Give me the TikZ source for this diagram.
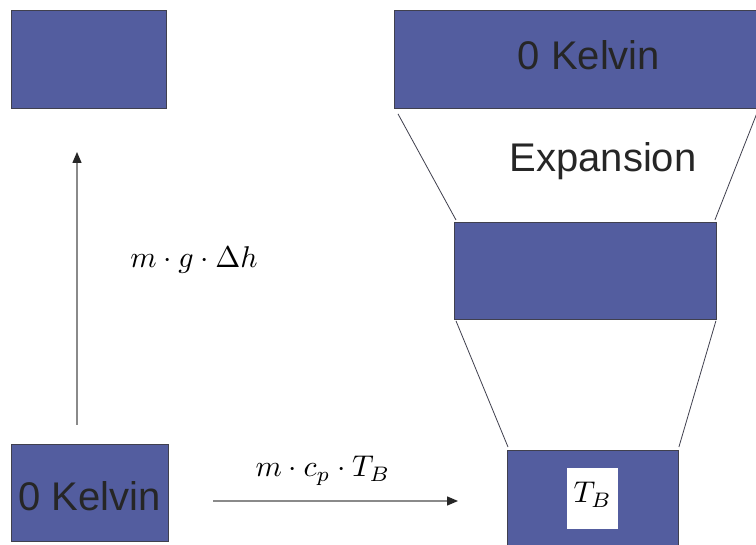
\documentclass[tikz,border=0pt]{standalone}
\usepackage{graphicx}
\usepackage{fontspec}
\setmainfont{Liberation Sans}
\usetikzlibrary{arrows.meta,calc}
\definecolor{boxfill}{HTML}{535D9F}
\definecolor{boxline}{HTML}{40404E}
\definecolor{txt}{HTML}{262626}
\definecolor{arrgray}{HTML}{8A8A8A}
\newcommand{\bigmath}[1]{\scalebox{3.0}{$#1$}}
\tikzset{
  bluebox/.style={draw=boxline, line width=0.9pt, fill=boxfill, inner sep=0pt, anchor=north west},
  bigtext/.style={text=txt, font=\fontsize{40}{44}\selectfont, inner sep=0pt, anchor=base},
  mathlbl/.style={text=black, inner sep=0pt, anchor=base},
  funnel/.style={draw=boxline, line width=0.8pt},
  energy/.style={draw=arrgray, line width=1.5pt, -{Triangle[length=11pt,width=9pt,color=txt]}},
}
\begin{document}
\begin{tikzpicture}[x=1pt,y=-1pt]
\clip (0,0) rectangle (756,545);
\fill[white] (0,0) rectangle (756,545);
% boxes
\node[bluebox, minimum width=155pt, minimum height=98pt] (tl) at (11,10) {};
\node[bluebox, minimum width=366pt, minimum height=98pt] (tr) at (394,10) {};
\node[bluebox, minimum width=262pt, minimum height=97pt] (mid) at (454,222) {};
\node[bluebox, minimum width=171pt, minimum height=100pt] (br) at (507,450) {};
\node[bluebox, minimum width=157pt, minimum height=97pt] (bl) at (11,444) {};
\node[fill=white, inner sep=0pt, minimum width=51pt, minimum height=61pt, anchor=north west] (tbbox) at (567,468) {};
% texts
\node[bigtext] (k1) at (589,70) {0 Kelvin};
\node[bigtext] (exp) at (603,172) {Expansion};
\node[bigtext] (k2) at (89.5,511) {0 Kelvin};
\node[mathlbl] (tb) at (tbbox.center |- 0,503) {\bigmath{T_B}};
% funnel lines
\coordinate (f1a) at ($(tr.south west)+(4,5)$);
\coordinate (f1b) at ($(mid.north west)+(2,-2)$);
\coordinate (f2a) at (757,113);
\coordinate (f2b) at ($(mid.north east)+(-2,-2)$);
\coordinate (f3a) at ($(mid.south west)+(2,1)$);
\coordinate (f3b) at ($(br.north west)+(1,-3)$);
\coordinate (f4a) at ($(mid.south east)+(-1,1)$);
\coordinate (f4b) at ($(br.north east)+(0,-3)$);
\draw[funnel] (f1a) -- (f1b);
\draw[funnel] (f2a) -- (f2b);
\draw[funnel] (f3a) -- (f3b);
\draw[funnel] (f4a) -- (f4b);
% arrows
\coordinate (v0) at (77,425);
\coordinate (v1) at (77,152);
\coordinate (h0) at (213,501);
\coordinate (h1) at (458,501);
\draw[energy] (v0) -- (v1);
\draw[energy] (h0) -- (h1);
\node[mathlbl] (lg) at (194,268) {\bigmath{m\cdot g\cdot \Delta h}};
\node[mathlbl] (lc) at (323,477) {\bigmath{m\cdot c_p\cdot T_B}};
\end{tikzpicture}
\end{document}
